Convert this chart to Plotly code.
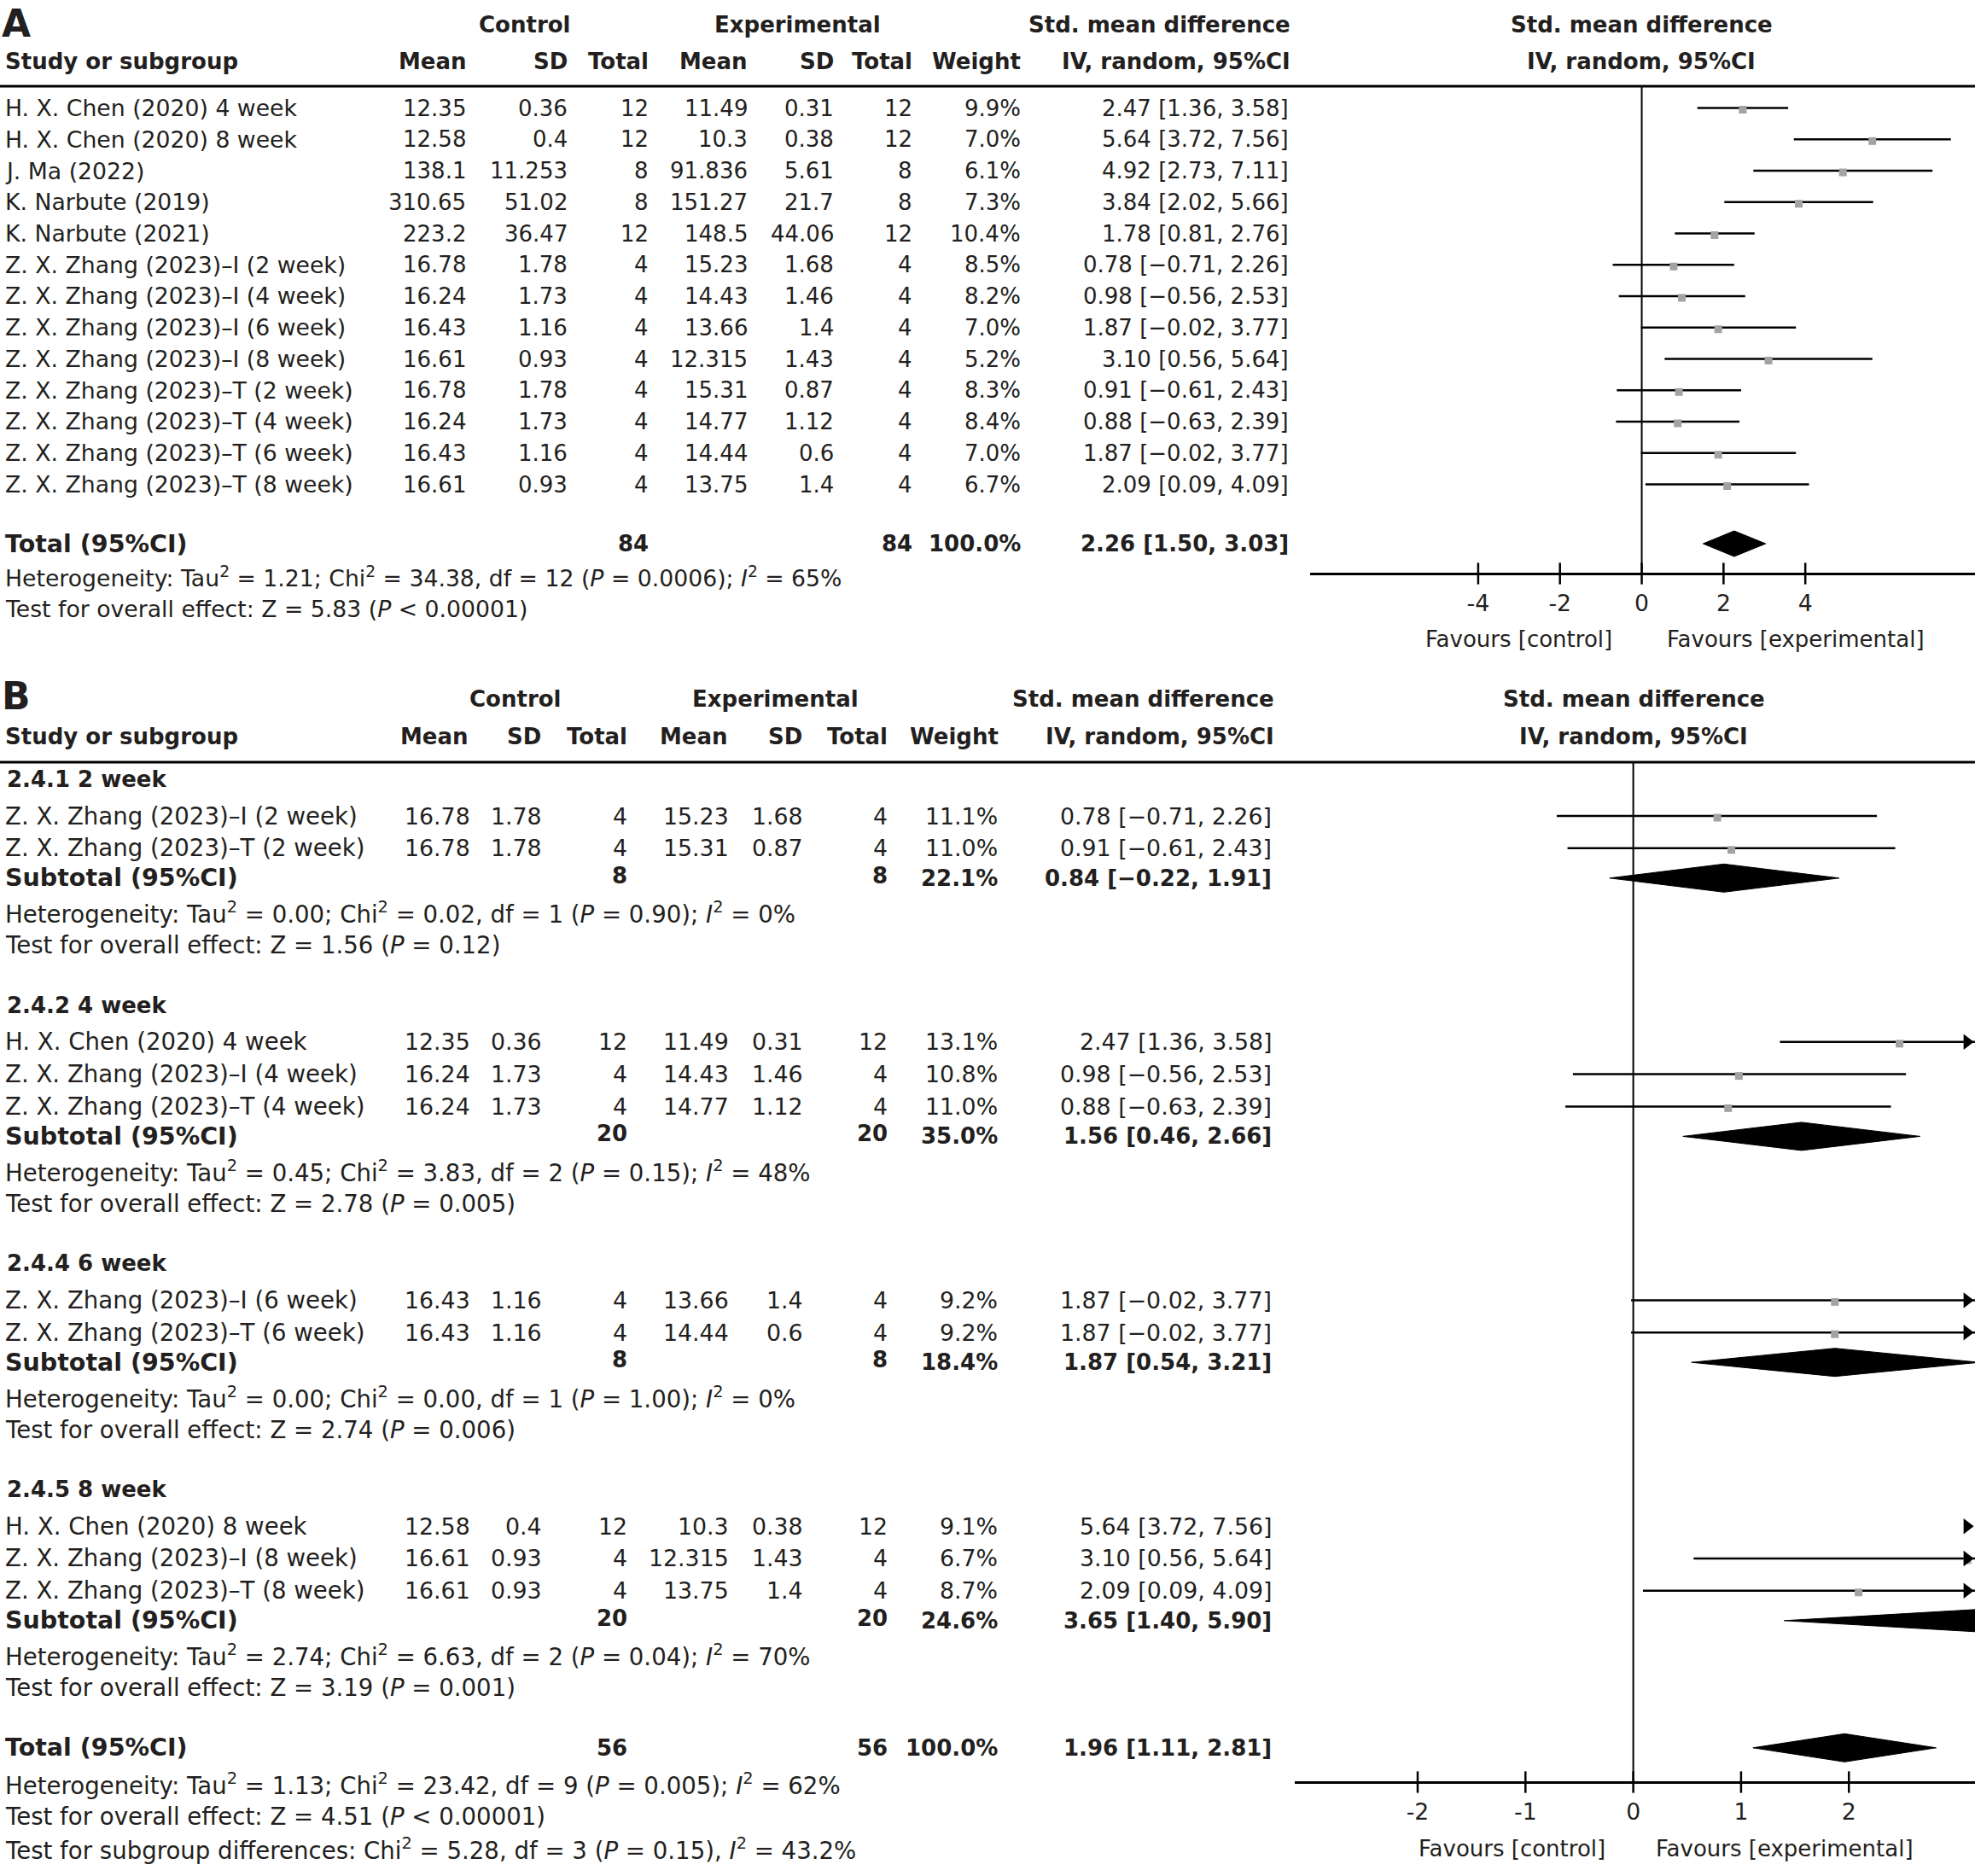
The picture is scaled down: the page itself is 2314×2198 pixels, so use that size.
import plotly.graph_objects as go

W, H = 2314, 2198
FONT = "DejaVu Sans"
TXT = "#231f20"
FS = 26        # numbers / bold headers
FS_T = 26.7    # running text lines (panel A)
FS_TB = 27.6   # running text lines (panel B)
FS_NB = 26.8   # numbers (panel B)
FS_TOT = 28.5  # "Total"/"Subtotal" labels
FS_FAV = 26    # favours labels
SPLIT = 790    # pixel row where panel A ends and panel B starts

# ---------------- Panel A data ----------------
a_study = [
    "H. X. Chen (2020) 4 week", "H. X. Chen (2020) 8 week", "J. Ma (2022)",
    "K. Narbute (2019)", "K. Narbute (2021)",
    "Z. X. Zhang (2023)–I (2 week)", "Z. X. Zhang (2023)–I (4 week)",
    "Z. X. Zhang (2023)–I (6 week)", "Z. X. Zhang (2023)–I (8 week)",
    "Z. X. Zhang (2023)–T (2 week)", "Z. X. Zhang (2023)–T (4 week)",
    "Z. X. Zhang (2023)–T (6 week)", "Z. X. Zhang (2023)–T (8 week)",
]
a_c_mean = [12.35, 12.58, 138.1, 310.65, 223.2, 16.78, 16.24, 16.43, 16.61, 16.78, 16.24, 16.43, 16.61]
a_c_sd = [0.36, 0.4, 11.253, 51.02, 36.47, 1.78, 1.73, 1.16, 0.93, 1.78, 1.73, 1.16, 0.93]
a_c_n = [12, 12, 8, 8, 12, 4, 4, 4, 4, 4, 4, 4, 4]
a_e_mean = [11.49, 10.3, 91.836, 151.27, 148.5, 15.23, 14.43, 13.66, 12.315, 15.31, 14.77, 14.44, 13.75]
a_e_sd = [0.31, 0.38, 5.61, 21.7, 44.06, 1.68, 1.46, 1.4, 1.43, 0.87, 1.12, 0.6, 1.4]
a_e_n = [12, 12, 8, 8, 12, 4, 4, 4, 4, 4, 4, 4, 4]
a_weight = ["9.9%", "7.0%", "6.1%", "7.3%", "10.4%", "8.5%", "8.2%", "7.0%", "5.2%", "8.3%", "8.4%", "7.0%", "6.7%"]
a_smd = [2.47, 5.64, 4.92, 3.84, 1.78, 0.78, 0.98, 1.87, 3.10, 0.91, 0.88, 1.87, 2.09]
a_lo = [1.36, 3.72, 2.73, 2.02, 0.81, -0.71, -0.56, -0.02, 0.56, -0.61, -0.63, -0.02, 0.09]
a_hi = [3.58, 7.56, 7.11, 5.66, 2.76, 2.26, 2.53, 3.77, 5.64, 2.43, 2.39, 3.77, 4.09]
a_total_n = [84, 84]
a_total_weight = "100.0%"
a_total = [2.26, 1.50, 3.03]
a_het = ("Heterogeneity: Tau<sup>2</sup> = 1.21; Chi<sup>2</sup> = 34.38, df = 12 "
         "(<i>P</i> = 0.0006); <i>I</i><sup>2</sup> = 65%")
a_test = "Test for overall effect: Z = 5.83 (<i>P</i> &lt; 0.00001)"
a_ticks = [-4, -2, 0, 2, 4]
a_range = [-8.11, 8.15]

# ---------------- Panel B data ----------------
b_group_titles = ["2.4.1 2 week", "2.4.2 4 week", "2.4.4 6 week", "2.4.5 8 week"]
b_group = [0, 0, 1, 1, 1, 2, 2, 3, 3, 3]
b_study = [
    "Z. X. Zhang (2023)–I (2 week)", "Z. X. Zhang (2023)–T (2 week)",
    "H. X. Chen (2020) 4 week", "Z. X. Zhang (2023)–I (4 week)", "Z. X. Zhang (2023)–T (4 week)",
    "Z. X. Zhang (2023)–I (6 week)", "Z. X. Zhang (2023)–T (6 week)",
    "H. X. Chen (2020) 8 week", "Z. X. Zhang (2023)–I (8 week)", "Z. X. Zhang (2023)–T (8 week)",
]
b_c_mean = [16.78, 16.78, 12.35, 16.24, 16.24, 16.43, 16.43, 12.58, 16.61, 16.61]
b_c_sd = [1.78, 1.78, 0.36, 1.73, 1.73, 1.16, 1.16, 0.4, 0.93, 0.93]
b_c_n = [4, 4, 12, 4, 4, 4, 4, 12, 4, 4]
b_e_mean = [15.23, 15.31, 11.49, 14.43, 14.77, 13.66, 14.44, 10.3, 12.315, 13.75]
b_e_sd = [1.68, 0.87, 0.31, 1.46, 1.12, 1.4, 0.6, 0.38, 1.43, 1.4]
b_e_n = [4, 4, 12, 4, 4, 4, 4, 12, 4, 4]
b_weight = ["11.1%", "11.0%", "13.1%", "10.8%", "11.0%", "9.2%", "9.2%", "9.1%", "6.7%", "8.7%"]
b_smd = [0.78, 0.91, 2.47, 0.98, 0.88, 1.87, 1.87, 5.64, 3.10, 2.09]
b_lo = [-0.71, -0.61, 1.36, -0.56, -0.63, -0.02, -0.02, 3.72, 0.56, 0.09]
b_hi = [2.26, 2.43, 3.58, 2.53, 2.39, 3.77, 3.77, 7.56, 5.64, 4.09]
b_sub_n = [8, 20, 8, 20]
b_sub_weight = ["22.1%", "35.0%", "18.4%", "24.6%"]
b_sub_smd = [0.84, 1.56, 1.87, 3.65]
b_sub_lo = [-0.22, 0.46, 0.54, 1.40]
b_sub_hi = [1.91, 2.66, 3.21, 5.90]
b_sub_het = [
    "Heterogeneity: Tau<sup>2</sup> = 0.00; Chi<sup>2</sup> = 0.02, df = 1 (<i>P</i> = 0.90); <i>I</i><sup>2</sup> = 0%",
    "Heterogeneity: Tau<sup>2</sup> = 0.45; Chi<sup>2</sup> = 3.83, df = 2 (<i>P</i> = 0.15); <i>I</i><sup>2</sup> = 48%",
    "Heterogeneity: Tau<sup>2</sup> = 0.00; Chi<sup>2</sup> = 0.00, df = 1 (<i>P</i> = 1.00); <i>I</i><sup>2</sup> = 0%",
    "Heterogeneity: Tau<sup>2</sup> = 2.74; Chi<sup>2</sup> = 6.63, df = 2 (<i>P</i> = 0.04); <i>I</i><sup>2</sup> = 70%",
]
b_sub_test = [
    "Test for overall effect: Z = 1.56 (<i>P</i> = 0.12)",
    "Test for overall effect: Z = 2.78 (<i>P</i> = 0.005)",
    "Test for overall effect: Z = 2.74 (<i>P</i> = 0.006)",
    "Test for overall effect: Z = 3.19 (<i>P</i> = 0.001)",
]
b_total_n = [56, 56]
b_total_weight = "100.0%"
b_total = [1.96, 1.11, 2.81]
b_het = ("Heterogeneity: Tau<sup>2</sup> = 1.13; Chi<sup>2</sup> = 23.42, df = 9 "
         "(<i>P</i> = 0.005); <i>I</i><sup>2</sup> = 62%")
b_test = "Test for overall effect: Z = 4.51 (<i>P</i> &lt; 0.00001)"
b_subdiff = ("Test for subgroup differences: Chi<sup>2</sup> = 5.28, df = 3 (<i>P</i> = 0.15), "
             "<i>I</i><sup>2</sup> = 43.2%")
b_ticks = [-2, -1, 0, 1, 2]
b_range = [-3.14, 3.17]

# ---------------- layout helpers ----------------
annotations = []
shapes = []


def ann(x, y, text, anchor="right", size=FS, bold=False):
    if bold:
        text = f"<b>{text}</b>"
    annotations.append(dict(x=x / W, y=1 - y / H, xref="paper", yref="paper", text=text,
                            showarrow=False, xanchor=anchor, yanchor="middle",
                            font=dict(family=FONT, size=size, color=TXT)))


def ci_text(e, l, h):
    return f"{e:.2f} [{l:.2f}, {h:.2f}]".replace("-", "\u2212")


def hline(y, width=3):
    shapes.append(dict(type="line", xref="paper", yref="paper", x0=0, x1=1,
                       y0=1 - y / H, y1=1 - y / H,
                       line=dict(color="black", width=width)))


fig = go.Figure()

dom_a = [1535 / W, 1.0]
dom_b = [1517 / W, 1.0]


def forest(xa, ya, ys, est, lo, hi, xr, dom, arrows=False):
    lx, ly = [], []
    for y, l, h in zip(ys, lo, hi):
        lx += [l, h, None]
        ly += [y, y, None]
    fig.add_trace(go.Scatter(x=lx, y=ly, xaxis=xa, yaxis=ya, mode="lines",
                             line=dict(color="black", width=2.5), hoverinfo="skip"))
    fig.add_trace(go.Scatter(x=est, y=[y + 2 for y in ys], xaxis=xa, yaxis=ya, mode="markers",
                             marker=dict(symbol="square", size=9, color="#a3a3a3"),
                             hoverinfo="skip"))
    if arrows:
        px_per_unit = (W * (dom[1] - dom[0])) / (xr[1] - xr[0])
        ax = [xr[1] - 9.4 / px_per_unit for h in hi if h > xr[1]]
        ay = [y for y, h in zip(ys, hi) if h > xr[1]]
        fig.add_trace(go.Scatter(x=ax, y=ay, xaxis=xa, yaxis=ya, mode="markers",
                                 marker=dict(symbol="triangle-right", size=16, color="black"),
                                 cliponaxis=False, hoverinfo="skip"))


def diamond(xa, ya, y, e, l, h, half=15.5):
    fig.add_trace(go.Scatter(x=[l, e, h, e, l], y=[y, y - half, y, y + half, y],
                             xaxis=xa, yaxis=ya, mode="lines", fill="toself",
                             fillcolor="black", line=dict(color="black", width=1),
                             hoverinfo="skip"))


def axis_ticks(xa, ya, ticks, y):
    fig.add_trace(go.Scatter(x=ticks, y=[y] * len(ticks), xaxis=xa, yaxis=ya, mode="markers",
                             marker=dict(symbol="line-ns", size=18,
                                         line=dict(color="black", width=2.5)),
                             cliponaxis=False, hoverinfo="skip"))


# ================= Panel A =================
A_AXIS_Y = 672
A_LINE_Y = 101
ann(0, 28, "A", anchor="left", size=44, bold=True)
ann(614, 29, "Control", anchor="center", bold=True)
ann(934, 29, "Experimental", anchor="center", bold=True)
ann(1514, 29, "Std. mean difference", bold=True)
ann(1923, 29, "Std. mean difference", anchor="center", bold=True)
ann(4, 72, "Study or subgroup", anchor="left", bold=True)
for x, t in [(549, "Mean"), (667, "SD"), (762, "Total"), (878, "Mean"), (979, "SD"),
             (1071, "Total"), (1198, "Weight"), (1514, "IV, random, 95%CI")]:
    ann(x, 72, t, bold=True)
ann(1923, 72, "IV, random, 95%CI", anchor="center", bold=True)
hline(A_LINE_Y)

a_rows_y = [126.5 + 36.75 * i for i in range(len(a_study))]
for i, y in enumerate(a_rows_y):
    ann(4, y, a_study[i], anchor="left", size=FS_T)
    ann(548, y, str(a_c_mean[i]))
    ann(667, y, str(a_c_sd[i]))
    ann(762, y, str(a_c_n[i]))
    ann(878, y, str(a_e_mean[i]))
    ann(979, y, str(a_e_sd[i]))
    ann(1071, y, str(a_e_n[i]))
    ann(1198, y, a_weight[i])
    ann(1512, y, ci_text(a_smd[i], a_lo[i], a_hi[i]))

a_tot_y = 637
ann(4, a_tot_y, "Total (95%CI)", anchor="left", bold=True, size=FS_TOT)
ann(762, a_tot_y, str(a_total_n[0]), bold=True)
ann(1071, a_tot_y, str(a_total_n[1]), bold=True)
ann(1198, a_tot_y, a_total_weight, bold=True)
ann(1512, a_tot_y, ci_text(*a_total), bold=True)
ann(4, 676, a_het, anchor="left", size=FS_T)
ann(4, 714, a_test, anchor="left", size=FS_T)

shapes.append(dict(type="line", xref="x", yref="y", x0=0, x1=0, y0=A_LINE_Y, y1=A_AXIS_Y,
                   line=dict(color="black", width=2)))
forest("x", "y", a_rows_y, a_smd, a_lo, a_hi, a_range, dom_a)
diamond("x", "y", a_tot_y, a_total[0], a_total[1], a_total[2], half=15)
axis_ticks("x", "y", a_ticks, A_AXIS_Y)
a_zero_px = 1535 + (0 - a_range[0]) / (a_range[1] - a_range[0]) * (W - 1535)
ann(a_zero_px - 33, 749, "Favours [control]", size=FS_FAV)
ann(a_zero_px + 27, 749, "Favours [experimental]", anchor="left", size=FS_FAV)

# ================= Panel B =================
B_AXIS_Y = 2088
B_LINE_Y = 893
ann(0, 815, "B", anchor="left", size=44, bold=True)
ann(603, 819, "Control", anchor="center", bold=True)
ann(908, 819, "Experimental", anchor="center", bold=True)
ann(1495, 819, "Std. mean difference", bold=True)
ann(1914, 819, "Std. mean difference", anchor="center", bold=True)
ann(4, 863, "Study or subgroup", anchor="left", bold=True)
for x, t in [(551, "Mean"), (636, "SD"), (737, "Total"), (855, "Mean"), (942, "SD"),
             (1042, "Total"), (1172, "Weight"), (1495, "IV, random, 95%CI")]:
    ann(x, 863, t, bold=True)
ann(1914, 863, "IV, random, 95%CI", anchor="center", bold=True)
hline(B_LINE_Y)

b_rows_y = []
cur = 913
for g, title in enumerate(b_group_titles):
    ann(6, cur, title, anchor="left", bold=True)
    idx = [i for i, gg in enumerate(b_group) if gg == g]
    cur += 43
    for k, i in enumerate(idx):
        if k > 0:
            cur += 37.8
        y = cur
        b_rows_y.append(y)
        ann(4, y, b_study[i], anchor="left", size=FS_TB)
        ann(553, y, str(b_c_mean[i]), size=FS_NB)
        ann(637, y, str(b_c_sd[i]), size=FS_NB)
        ann(737, y, str(b_c_n[i]), size=FS_NB)
        ann(856, y, str(b_e_mean[i]), size=FS_NB)
        ann(943, y, str(b_e_sd[i]), size=FS_NB)
        ann(1042, y, str(b_e_n[i]), size=FS_NB)
        ann(1171, y, b_weight[i], size=FS_NB)
        ann(1492, y, ci_text(b_smd[i], b_lo[i], b_hi[i]), size=FS_NB)
    cur += 35
    ann(4, cur, "Subtotal (95%CI)", anchor="left", bold=True, size=FS_TOT)
    ann(737, cur - 3, str(b_sub_n[g]), bold=True)
    ann(1042, cur - 3, str(b_sub_n[g]), bold=True)
    ann(1171, cur, b_sub_weight[g], bold=True)
    ann(1492, cur, ci_text(b_sub_smd[g], b_sub_lo[g], b_sub_hi[g]), bold=True)
    diamond("x2", "y2", cur, b_sub_smd[g], b_sub_lo[g], b_sub_hi[g], half=16.5)
    cur += 41
    ann(4, cur, b_sub_het[g], anchor="left", size=FS_TB)
    cur += 38
    ann(4, cur, b_sub_test[g], anchor="left", size=FS_TB)
    cur += 70

b_tot_y = cur
ann(4, b_tot_y, "Total (95%CI)", anchor="left", bold=True, size=FS_TOT)
ann(737, b_tot_y, str(b_total_n[0]), bold=True)
ann(1042, b_tot_y, str(b_total_n[1]), bold=True)
ann(1171, b_tot_y, b_total_weight, bold=True)
ann(1492, b_tot_y, ci_text(*b_total), bold=True)
ann(4, b_tot_y + 43, b_het, anchor="left", size=FS_TB)
ann(4, b_tot_y + 81, b_test, anchor="left", size=FS_TB)
ann(4, b_tot_y + 119, b_subdiff, anchor="left", size=FS_TB)

shapes.append(dict(type="line", xref="x2", yref="y2", x0=0, x1=0, y0=B_LINE_Y, y1=B_AXIS_Y,
                   line=dict(color="black", width=2)))
forest("x2", "y2", b_rows_y, b_smd, b_lo, b_hi, b_range, dom_b, arrows=True)
diamond("x2", "y2", b_tot_y, b_total[0], b_total[1], b_total[2], half=16.5)
axis_ticks("x2", "y2", b_ticks, B_AXIS_Y)
b_zero_px = 1517 + (0 - b_range[0]) / (b_range[1] - b_range[0]) * (W - 1517)
ann(b_zero_px - 31, 2166, "Favours [control]", size=FS_FAV)
ann(b_zero_px + 24, 2166, "Favours [experimental]", anchor="left", size=FS_FAV)


def xaxis_cfg(dom, rng, ticks, y_px):
    return dict(domain=dom, range=rng, anchor="free", position=1 - y_px / H,
                showline=True, linecolor="black", linewidth=2.5, showgrid=False,
                zeroline=False, ticks="", tickvals=ticks,
                ticktext=[str(t) for t in ticks], ticklabelstandoff=10,
                tickfont=dict(family=FONT, size=FS_T, color=TXT), fixedrange=True)


fig.update_layout(
    width=W, height=H, margin=dict(l=0, r=0, t=0, b=0),
    paper_bgcolor="white", plot_bgcolor="rgba(0,0,0,0)", showlegend=False,
    xaxis=xaxis_cfg(dom_a, a_range, a_ticks, A_AXIS_Y),
    xaxis2=xaxis_cfg(dom_b, b_range, b_ticks, B_AXIS_Y),
    yaxis=dict(domain=[1 - SPLIT / H, 1], range=[SPLIT, 0], visible=False,
               fixedrange=True, anchor="x"),
    yaxis2=dict(domain=[0, 1 - SPLIT / H], range=[H, SPLIT], visible=False,
                fixedrange=True, anchor="x2"),
    annotations=annotations, shapes=shapes,
    font=dict(family=FONT, size=FS, color=TXT),
)

fig.write_html("out.html", config={"displayModeBar": False},
               post_script="document.body.style.margin='0';"
                           "document.body.style.overflow='hidden';")
